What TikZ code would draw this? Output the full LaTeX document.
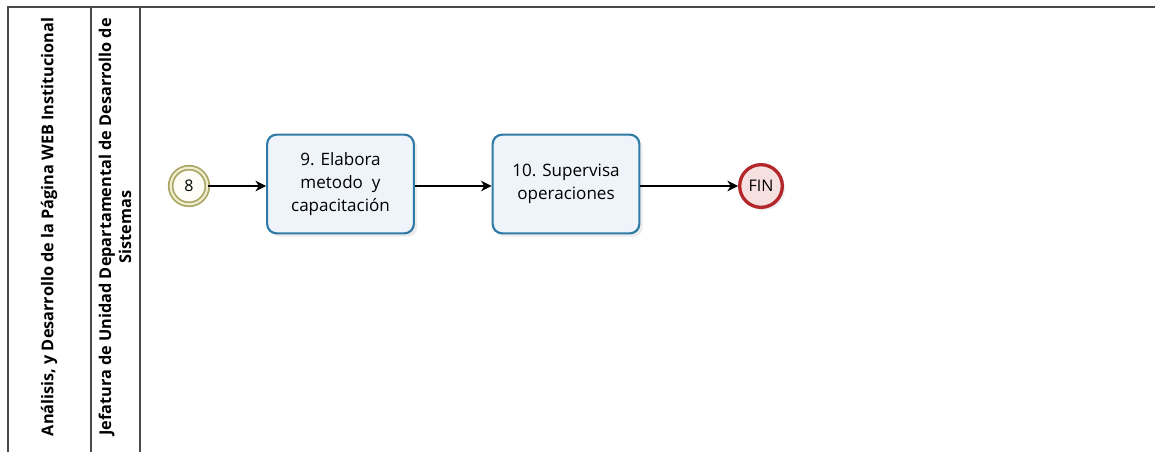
\documentclass[tikz,border=0pt]{standalone}
\usepackage{fontspec}
\setmainfont{Open Sans}
\usepackage{tikz}
\usetikzlibrary{arrows.meta,positioning,shadows}
\definecolor{laneink}{HTML}{4A4A4A}
\definecolor{taskline}{HTML}{2F7BA6}
\definecolor{taskbg}{HTML}{EEF4FA}
\definecolor{startline}{HTML}{A9A565}
\definecolor{startgap}{HTML}{EFEDCB}
\definecolor{startbg}{HTML}{FDFDF6}
\definecolor{endline}{HTML}{B3262A}
\definecolor{endbg}{HTML}{F7E0E0}
\tikzset{
  lanetitle/.style={rotate=90,align=center,font=\bfseries\fontsize{12.2}{15}\selectfont,
                    text=black,inner sep=0pt},
  task/.style={draw=taskline,fill=taskbg,line width=1.6pt,rounded corners=7pt,
               minimum width=110pt,minimum height=74pt,align=center,
               font=\fontsize{12.8}{17.5}\selectfont,
               drop shadow={opacity=0.15,shadow xshift=2.5pt,shadow yshift=-2.5pt}},
  startev/.style={circle,draw=startline,fill=startbg,line width=1.3pt,double=startgap,
                  double distance=1.6pt,minimum size=27.5pt,inner sep=0pt,
                  font=\fontsize{12}{14}\selectfont},
  endev/.style={circle,draw=endline,fill=endbg,line width=2.5pt,minimum size=32pt,
                inner sep=0pt,font=\fontsize{12}{14}\selectfont,
                drop shadow={opacity=0.15,shadow xshift=2pt,shadow yshift=-2pt}},
  flow/.style={-{Stealth[length=8pt,width=8pt,inset=2.5pt]},line width=0.9pt,draw=black}
}

\begin{document}
\begin{tikzpicture}[x=0.75pt,y=-0.75pt]
  \useasboundingbox[fill=white] (0,0) rectangle (1155,452);
  % pool and lane borders
  \draw[laneink,line width=0.8pt] (8,452) -- (8,7) -- (1155,7);
  \draw[laneink,line width=0.8pt] (91,7) -- (91,452);
  \draw[laneink,line width=0.8pt] (140,7) -- (140,452);
  \node[lanetitle] (pool) at (49,227)
    {Análisis, y Desarrollo de la Página WEB Institucional};
  \node[lanetitle] (lane) at (115,227)
    {Jefatura de Unidad Departamental de Desarrollo de\\Sistemas};
  % process
  \node[startev] (start) at (189,186) {8};
  \node[task] (t9) at (340.5,184) {9. Elabora\\metodo \ y\\capacitación};
  \node[task] (t10) at (566,184) {10. Supervisa\\operaciones};
  \node[endev] (fin) at (761,186) {FIN};
  \draw[flow] (start) -- (t9.west |- start);
  \draw[flow] (t9.east |- start) -- (t10.west |- start);
  \draw[flow] (t10.east |- start) -- (fin);
\end{tikzpicture}
\end{document}
